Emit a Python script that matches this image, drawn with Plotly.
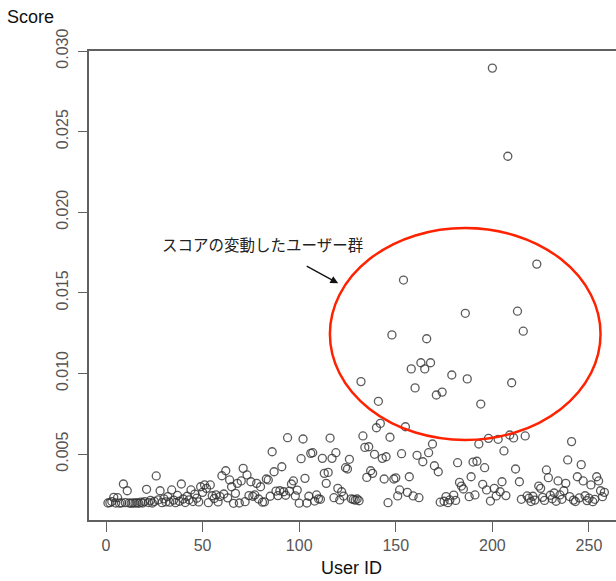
import plotly.graph_objects as go

user_ids = list(range(1, 259))
scores = [
    0.00196, 0.00198, 0.00205, 0.00231, 0.00196, 0.00229, 0.00195, 0.00197, 0.00314, 0.00198,
    0.00272, 0.00196, 0.00194, 0.00197, 0.00195, 0.00198, 0.00194, 0.00201, 0.00196, 0.00205,
    0.00281, 0.00199, 0.00212, 0.00196, 0.00206, 0.00364, 0.00215, 0.00272, 0.00198, 0.00222,
    0.00203, 0.00236, 0.00201, 0.00277, 0.00214, 0.00198, 0.00243, 0.00207, 0.00314, 0.00221,
    0.00199, 0.00238, 0.00216, 0.00277, 0.00205, 0.00251, 0.00226, 0.00203, 0.00297, 0.00262,
    0.00308, 0.00287, 0.00198, 0.00308, 0.00241, 0.00224, 0.00247, 0.00203, 0.00236, 0.00365,
    0.00252, 0.00396, 0.00228, 0.00339, 0.00297, 0.00194, 0.00256, 0.00318, 0.00196, 0.00333,
    0.00411, 0.00204, 0.00370, 0.00242, 0.00328, 0.00238, 0.00246, 0.00318, 0.00221, 0.00297,
    0.00201, 0.00203, 0.00345, 0.00339, 0.00238, 0.00514, 0.00390, 0.00270, 0.00242, 0.00272,
    0.00421, 0.00266, 0.00244, 0.00601, 0.00270, 0.00314, 0.00333, 0.00240, 0.00276, 0.00195,
    0.00471, 0.00593, 0.00349, 0.00196, 0.00238, 0.00504, 0.00508, 0.00208, 0.00246, 0.00222,
    0.00219, 0.00473, 0.00380, 0.00318, 0.00386, 0.00599, 0.00473, 0.00229, 0.00508, 0.00287,
    0.00215, 0.00266, 0.00239, 0.00415, 0.00407, 0.00467, 0.00222, 0.00218, 0.00214, 0.00221,
    0.00210, 0.00949, 0.00612, 0.00541, 0.00355, 0.00545, 0.00396, 0.00380, 0.00498, 0.00663,
    0.00827, 0.00690, 0.00473, 0.00345, 0.00483, 0.00198, 0.00604, 0.01239, 0.00345, 0.00352,
    0.00240, 0.00277, 0.00502, 0.01579, 0.00669, 0.00262, 0.00359, 0.01028, 0.00240, 0.00910,
    0.00492, 0.00229, 0.01066, 0.00452, 0.01028, 0.01215, 0.00508, 0.01066, 0.00562, 0.00427,
    0.00866, 0.00390, 0.00201, 0.00884, 0.00207, 0.00236, 0.00198, 0.00215, 0.00990, 0.00245,
    0.00212, 0.00446, 0.00324, 0.00301, 0.00283, 0.01373, 0.00966, 0.00235, 0.00359, 0.00450,
    0.00246, 0.00455, 0.00562, 0.00810, 0.00312, 0.00415, 0.00277, 0.00597, 0.00208, 0.02894,
    0.00287, 0.00240, 0.00591, 0.00266, 0.00328, 0.00519, 0.00242, 0.02347, 0.00618, 0.00942,
    0.00600, 0.00407, 0.01386, 0.00328, 0.00219, 0.01262, 0.00612, 0.00240, 0.00226, 0.00205,
    0.00238, 0.00214, 0.01678, 0.00301, 0.00287, 0.00231, 0.00212, 0.00401, 0.00353, 0.00244,
    0.00222, 0.00258, 0.00207, 0.00333, 0.00246, 0.00219, 0.00272, 0.00318, 0.00463, 0.00236,
    0.00577, 0.00214, 0.00205, 0.00359, 0.00228, 0.00434, 0.00333, 0.00241, 0.00211, 0.00226,
    0.00308, 0.00204, 0.00219, 0.00359, 0.00333, 0.00272, 0.00235, 0.00262,
]
x_ticks = [0, 50, 100, 150, 200, 250]
y_ticks = [0.005, 0.010, 0.015, 0.020, 0.025, 0.030]
y_tick_labels = ["0.005", "0.010", "0.015", "0.020", "0.025", "0.030"]
annotation_text = "スコアの変動したユーザー群"

fig = go.Figure()
fig.add_trace(go.Scatter(
    x=user_ids, y=scores, mode="markers",
    marker=dict(symbol="circle-open", size=8, color="rgba(50,50,50,0.8)",
                line=dict(width=1.3, color="rgba(50,50,50,0.8)")),
    showlegend=False, hoverinfo="x+y",
))

axis_font = dict(family="Liberation Sans, Arial, sans-serif", size=16, color="#555555")

fig.update_layout(
    width=616, height=581,
    margin=dict(l=89, r=0, t=51, b=61),
    paper_bgcolor="white", plot_bgcolor="white",
    xaxis=dict(
        range=[-8.8, 264.0], tickvals=x_ticks, ticks="outside", ticklen=10,
        tickcolor="#606060", tickwidth=1.3, showgrid=False, zeroline=False,
        showline=True, linecolor="#606060", linewidth=1.6, mirror=True,
        tickfont=axis_font,
    ),
    yaxis=dict(
        range=[0.000906, 0.030], tickvals=y_ticks, ticktext=y_tick_labels,
        ticks="outside", ticklen=9, tickcolor="#606060", tickwidth=1.3,
        showgrid=False, zeroline=False, showline=True, linecolor="#606060",
        linewidth=1.6, tickangle=-90, tickfont=axis_font, ticklabelstandoff=4,
    ),
    font=dict(family="Liberation Sans, Arial, sans-serif"),
)

# red ellipse highlighting the group
fig.add_shape(type="circle", xref="x", yref="y",
              x0=115.9, x1=256.0, y0=0.00587, y1=0.01902,
              line=dict(color="#ff2200", width=2.5))

# arrow pointing to ellipse
fig.add_annotation(x=120.2, y=0.01559, xref="x", yref="y", text="",
                   showarrow=True, ax=-33, ay=-18, arrowhead=2, arrowsize=1.2,
                   arrowwidth=1.3, arrowcolor="#111111")
fig.add_annotation(x=160, y=244, xref="paper", yref="paper", text=annotation_text,
                   showarrow=False, xanchor="left", yanchor="middle",
                   font=dict(family="Noto Sans CJK JP", size=15.5, color="#222222"))

fig.add_annotation(x=5, y=17, xref="paper", yref="paper", text="Score", showarrow=False,
                   xanchor="left", yanchor="middle",
                   font=dict(family="Liberation Sans, Arial, sans-serif", size=18, color="#111111"))
fig.add_annotation(x=351, y=568, xref="paper", yref="paper", text="User ID", showarrow=False,
                   xanchor="center", yanchor="middle",
                   font=dict(family="Liberation Sans, Arial, sans-serif", size=18, color="#111111"))

# convert pixel-positioned annotations to paper coordinates
W, H = 616, 581
L, R, T, B = 89, 0, 51, 61
pw, ph = W - L - R, H - T - B
for ann in fig.layout.annotations:
    if ann.xref == "paper":
        ann.x = (ann.x - L) / pw
        ann.y = (H - B - ann.y) / ph

fig.write_html("out.html", config={"displayModeBar": False},
               post_script="document.body.style.margin='0';document.body.style.overflow='hidden';")
